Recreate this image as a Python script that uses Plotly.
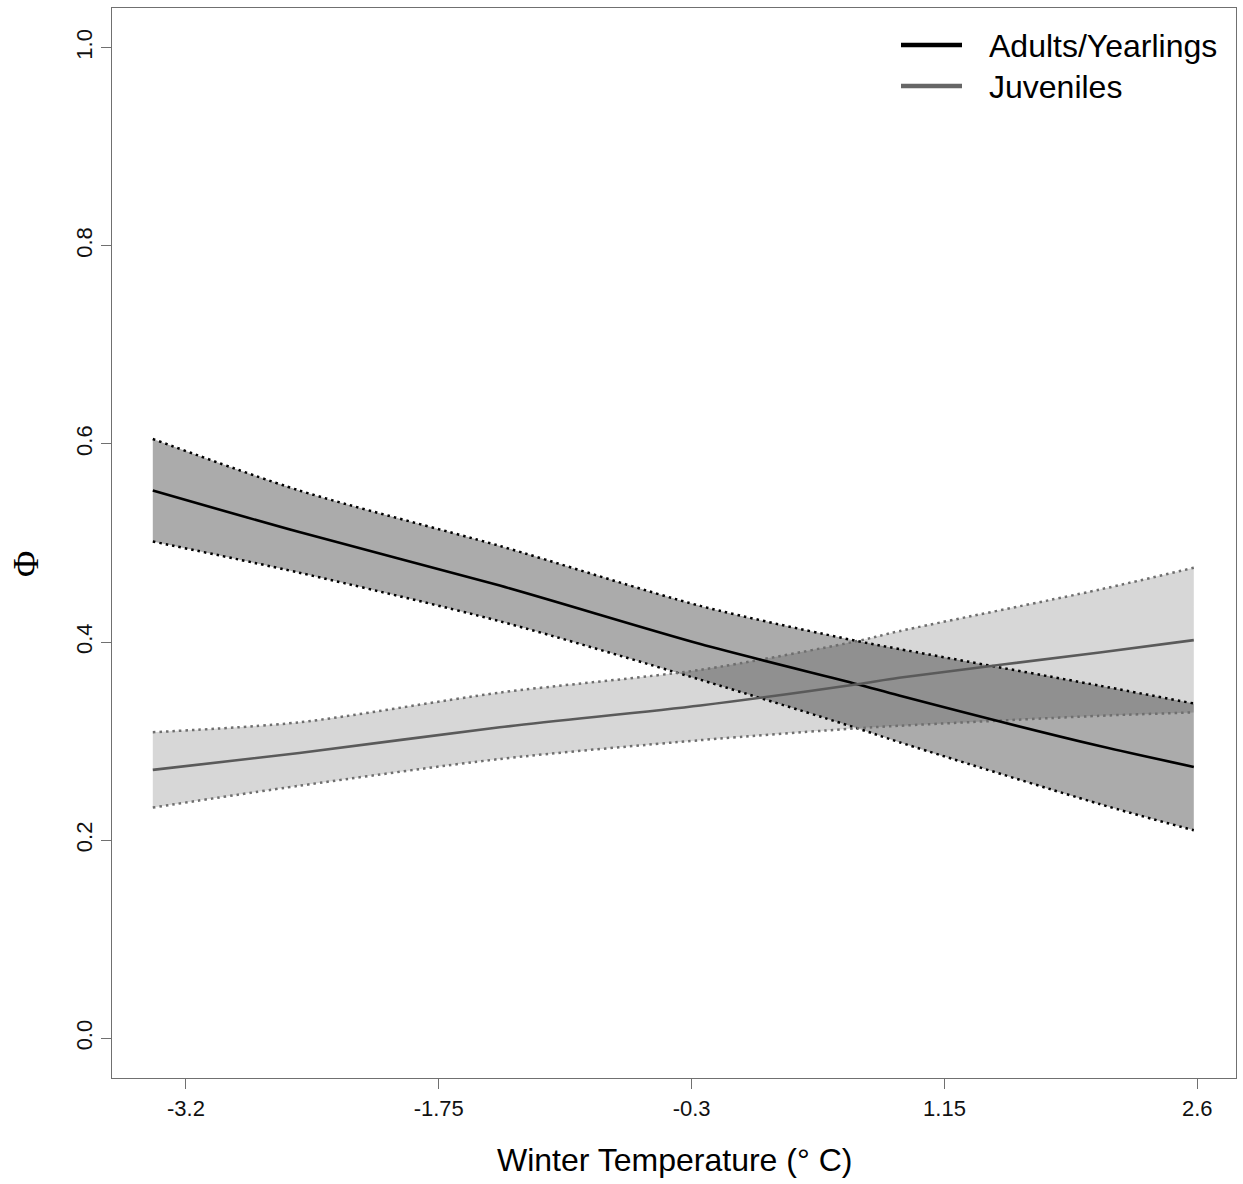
import plotly.graph_objects as go

# ---- data ----
temp = [-3.39, -2.55, -1.40, -0.25, 0.65, 0.89, 2.04, 2.58]

adult_mean = [0.553, 0.511, 0.457, 0.398, 0.3575, 0.346, 0.295, 0.274]
adult_upper = [0.605, 0.553, 0.497, 0.4365, 0.401, 0.393, 0.356, 0.338]
adult_lower = [0.5015, 0.470, 0.421, 0.362, 0.313, 0.299, 0.2365, 0.210]

juv_mean = [0.271, 0.288, 0.314, 0.336, 0.3575, 0.364, 0.3895, 0.402]
juv_upper = [0.309, 0.319, 0.349, 0.372, 0.401, 0.411, 0.453, 0.475]
juv_lower = [0.233, 0.255, 0.282, 0.301, 0.313, 0.3155, 0.3256, 0.329]

x_ticks = [-3.2, -1.75, -0.3, 1.15, 2.6]
x_ticktext = ["-3.2", "-1.75", "-0.3", "1.15", "2.6"]
y_ticks = [0.0, 0.2, 0.4, 0.6, 0.8, 1.0]
y_ticktext = ["0.0", "0.2", "0.4", "0.6", "0.8", "1.0"]

series_names = ["Adults/Yearlings", "Juveniles"]

FONT = "Liberation Sans, Arial, Helvetica, sans-serif"
ADULT_COL = "#000000"
JUV_COL = "#5a5a5a"
JUV_DOT = "#6e6e6e"
SHAPE = dict(shape="spline", smoothing=0.8)

fig = go.Figure()

# confidence bands (upper trace, then lower trace filled to it)
for up, lo, fc in ((juv_upper, juv_lower, "rgba(0,0,0,0.155)"),
                   (adult_upper, adult_lower, "rgba(0,0,0,0.33)")):
    fig.add_trace(go.Scatter(x=temp, y=up, mode="lines",
                             line=dict(width=0, color="rgba(0,0,0,0)", **SHAPE),
                             showlegend=False, hoverinfo="skip"))
    fig.add_trace(go.Scatter(x=temp, y=lo, mode="lines", fill="tonexty", fillcolor=fc,
                             line=dict(width=0, color="rgba(0,0,0,0)", **SHAPE),
                             showlegend=False, hoverinfo="skip"))

dot = "2.5px,4px"
for yy in (adult_upper, adult_lower):
    fig.add_trace(go.Scatter(x=temp, y=yy, mode="lines",
                             line=dict(color=ADULT_COL, width=2.5, dash=dot, **SHAPE),
                             showlegend=False, hoverinfo="skip"))
for yy in (juv_upper, juv_lower):
    fig.add_trace(go.Scatter(x=temp, y=yy, mode="lines",
                             line=dict(color=JUV_DOT, width=2.5, dash=dot, **SHAPE),
                             showlegend=False, hoverinfo="skip"))

fig.add_trace(go.Scatter(x=temp, y=adult_mean, mode="lines", name=series_names[0],
                         line=dict(color=ADULT_COL, width=2.6, **SHAPE), showlegend=False))
fig.add_trace(go.Scatter(x=temp, y=juv_mean, mode="lines", name=series_names[1],
                         line=dict(color=JUV_COL, width=2.6, **SHAPE), showlegend=False))

W, H = 1243, 1184
L, R, T, B = 112, 7, 8, 106
pw, ph = W - L - R, H - T - B

def px_to_paper_x(px):
    return (px - L) / pw

def px_to_paper_y(py):
    return (H - B - py) / ph

# manual legend (line keys + text)
shapes = []
annotations = []
legend_cols = [ADULT_COL, "#666666"]
legend_y = [45, 86]
for name, col, ly in zip(series_names, legend_cols, legend_y):
    shapes.append(dict(type="line", xref="paper", yref="paper",
                       x0=px_to_paper_x(901), x1=px_to_paper_x(962),
                       y0=px_to_paper_y(ly), y1=px_to_paper_y(ly),
                       line=dict(color=col, width=4.5)))
    annotations.append(dict(text=name, xref="paper", yref="paper",
                            x=px_to_paper_x(987), y=px_to_paper_y(ly + 1),
                            xanchor="left", yanchor="middle", showarrow=False,
                            font=dict(family=FONT, size=32, color="#000")))

# axis titles
annotations.append(dict(text="Winter Temperature (° C)", xref="paper", yref="paper",
                        x=0.5, y=px_to_paper_y(1160), xanchor="center", yanchor="middle",
                        showarrow=False, font=dict(family=FONT, size=32, color="#000")))
annotations.append(dict(text="Φ", xref="paper", yref="paper",
                        x=px_to_paper_x(26), y=px_to_paper_y(564), xanchor="center",
                        yanchor="middle", textangle=-90, showarrow=False,
                        font=dict(family="Liberation Serif, Times New Roman, serif",
                                  size=36, color="#000")))

axis_common = dict(showgrid=False, zeroline=False, showline=True, mirror=True,
                   linecolor="#707070", linewidth=1.3, ticks="outside", ticklen=10,
                   tickcolor="#707070", tickwidth=1.3,
                   tickfont=dict(family=FONT, size=22, color="#111"))

fig.update_layout(
    width=W, height=H,
    margin=dict(l=L, r=R, t=T, b=B, pad=0),
    paper_bgcolor="white", plot_bgcolor="white",
    xaxis=dict(range=[-3.624, 2.822], tickvals=x_ticks, ticktext=x_ticktext,
               **axis_common),
    yaxis=dict(range=[-0.04, 1.04], tickvals=y_ticks, ticktext=y_ticktext,
               tickangle=-90, **axis_common),
    shapes=shapes, annotations=annotations, showlegend=False,
)

fig.write_html("out.html", config={"displayModeBar": False},
               post_script="document.body.style.margin='0';")
